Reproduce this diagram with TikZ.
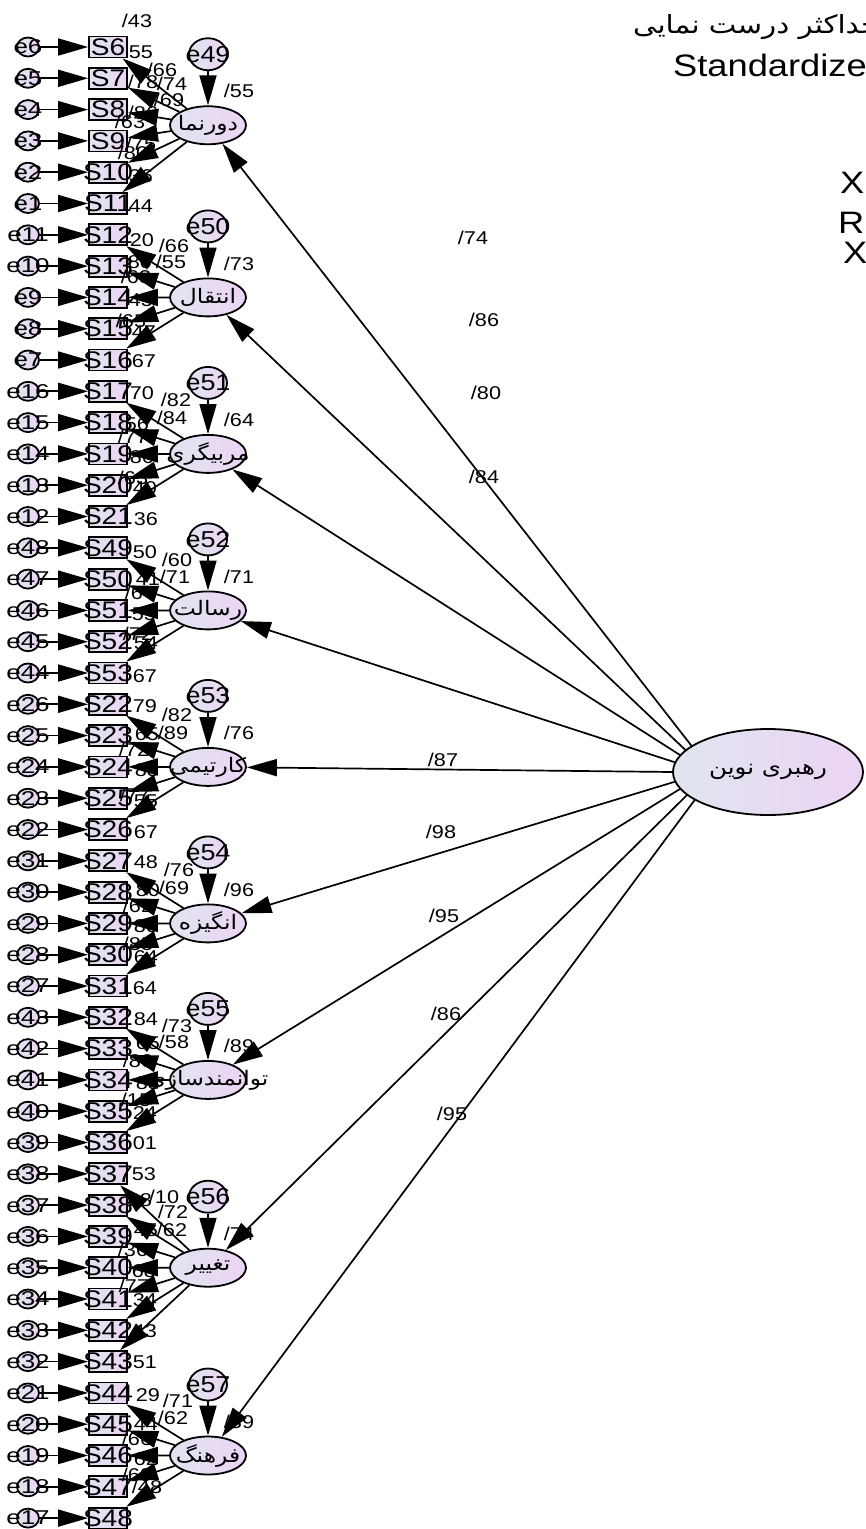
\documentclass[tikz,border=0pt]{standalone}
\usepackage{fontspec}
\usepackage{graphicx}
\setmainfont{Liberation Sans}
\newfontfamily\fa[Script=Arabic]{DejaVu Sans}
\TeXXeTstate=1
\usetikzlibrary{arrows.meta,shapes.geometric}

\definecolor{fillL}{RGB}{224,229,240}
\definecolor{fillR}{RGB}{236,212,244}

% text is set slightly wide throughout
\newcommand\sx[1]{\scalebox{1.17}[1]{#1}}
\newcommand\ex[1]{\scalebox{1.3}[1]{#1}}
\newcommand\fatext[1]{{\fa\beginR #1\endR}}
\newcommand\lab[3]{\node[num] at (#1,#2) {\sx{#3}};}

\tikzset{
  x=1pt, y=-1pt,
  grad/.style={left color=fillL, right color=fillR},
  obs/.style={draw, line width=1.8pt, rectangle, minimum width=38pt, minimum height=21pt, inner sep=0pt, grad},
  errc/.style={draw, line width=1.8pt, ellipse, minimum width=22pt, minimum height=19pt, inner sep=0pt, grad},
  lat/.style={draw, line width=1.8pt, ellipse, minimum width=76pt, minimum height=38pt, inner sep=0pt, grad},
  dis/.style={draw, line width=1.8pt, ellipse, minimum width=38pt, minimum height=32pt, inner sep=0pt, grad},
  arr/.style={line width=1.7pt, -{Triangle[length=30pt,width=17pt]}},
  num/.style={inner sep=0pt, font=\fontsize{18.5}{18.5}\selectfont},
  stxt/.style={inner sep=0pt, font=\fontsize{24}{24}\selectfont},
  etxt/.style={inner sep=0pt, font=\fontsize{20}{20}\selectfont},
  dtxt/.style={inner sep=0pt, font=\fontsize{23}{23}\selectfont},
  fatxt/.style={inner sep=0pt, font=\fontsize{20}{20}\selectfont},
}

\begin{document}
\begin{tikzpicture}
\useasboundingbox (0,0) rectangle (865,1529);

% ---- observed items with their error terms
\foreach \r/\s/\e in {1/6/6, 2/7/5, 3/8/4, 4/9/3, 5/10/2, 6/11/1,
  7/12/11, 8/13/10, 9/14/9, 10/15/8, 11/16/7,
  12/17/16, 13/18/15, 14/19/14, 15/20/13, 16/21/12,
  17/49/48, 18/50/47, 19/51/46, 20/52/45, 21/53/44,
  22/22/26, 23/23/25, 24/24/24, 25/25/23, 26/26/22,
  27/27/31, 28/28/30, 29/29/29, 30/30/28, 31/31/27,
  32/32/43, 33/33/42, 34/34/41, 35/35/40, 36/36/39,
  37/37/38, 38/38/37, 39/39/36, 40/40/35, 41/41/34, 42/42/33, 43/43/32,
  44/44/21, 45/45/20, 46/46/19, 47/47/18, 48/48/17}{
  \pgfmathsetmacro\yy{47+(\r-1)*31.3}
  \node[obs] (s\r) at (108,\yy) {};
  \node[errc] (u\r) at (28,\yy) {};
  \node[stxt] at (s\r) {\sx{S\s}};
  \node[etxt] at (u\r) {\ex{e\e}};
}

% ---- first-order factors with their disturbances
\foreach \g/\yy/\en/\rr/\nm in {1/125.25/49/55/دورنما, 2/297.4/50/73/انتقال,
  3/453.9/51/64/مربیگری, 4/610.4/52/71/رسالت, 5/766.9/53/76/کارتیمی,
  6/923.4/54/96/انگیزه, 7/1079.9/55/89/توانمندسازی, 8/1267.7/56/74/تغییر,
  9/1455.5/57/89/فرهنگ}{
  \node[lat] (L\g) at (208,\yy) {};
  \node[dis] (d\g) at (208,\yy-71) {};
  \node[fatxt] at (L\g) {\sx{\fatext{\nm}}};
  \node[dtxt] at (d\g) {\sx{e\en}};
  \node[num] at (239,\yy-34) {\sx{/\rr}};
}

% ---- second-order factor
\node[draw, line width=1.8pt, ellipse, minimum width=190pt, minimum height=86pt, inner sep=0pt, grad] (big) at (768,772) {};
\node[inner sep=0pt, font=\fontsize{21}{21}\selectfont] at (big) {\sx{\fatext{رهبری نوین}}};

% ---- header
\node[anchor=base west, inner sep=0pt, font=\fontsize{25}{25}\selectfont] (h1) at (633,33) {\sx{\fatext{حداکثر درست نمایی}}};
\node[anchor=base west, inner sep=0pt, font=\fontsize{31}{31}\selectfont] (h2) at (673,76) {\sx{Standardize}};
\node[anchor=base west, inner sep=0pt, font=\fontsize{31}{31}\selectfont] (h3) at (840,193) {\sx{X}};
\node[anchor=base west, inner sep=0pt, font=\fontsize{31}{31}\selectfont] (h4) at (838,233) {\sx{R}};
\node[anchor=base west, inner sep=0pt, font=\fontsize{31}{31}\selectfont] (h5) at (843,263) {\sx{X}};

% ---- second-order loadings
\lab{473}{238}{/74}
\lab{484}{320}{/86}
\lab{486}{393}{/80}
\lab{484}{477}{/84}
\lab{443}{760}{/87}
\lab{441}{832}{/98}
\lab{444}{916}{/95}
\lab{446}{1014}{/86}
\lab{452}{1114}{/95}

% ---- item estimates
\lab{137}{21}{/43}
\lab{141}{52}{55}
\lab{162}{70}{/66}
\lab{143}{82}{/78}
\lab{172}{84}{/74}
\lab{169}{100}{/69}
\lab{143}{113}{/86}
\lab{130}{122}{/63}
\lab{141}{144}{/75}
\lab{133}{153}{/80}
\lab{141}{176}{36}
\lab{141}{206}{44}

\lab{142}{240}{20}
\lab{174}{246}{/66}
\lab{140}{262}{80}
\lab{171}{262}{/55}
\lab{136}{277}{/63}
\lab{141}{300}{45}
\lab{131}{321}{/65}
\lab{144}{332}{47}
\lab{144}{361}{67}

\lab{142}{393}{70}
\lab{176}{400}{/82}
\lab{172}{418}{/84}
\lab{137}{424}{56}
\lab{133}{437}{/77}
\lab{142}{457}{86}
\lab{133}{478}{/63}
\lab{145}{488}{40}
\lab{146}{519}{36}

\lab{145}{552}{50}
\lab{177}{560}{/60}
\lab{148}{579}{41}
\lab{175}{577}{/71}
\lab{140}{593}{/64}
\lab{144}{614}{55}
\lab{138}{634}{/72}
\lab{146}{643}{54}
\lab{145}{676}{67}

\lab{145}{706}{79}
\lab{177}{715}{/82}
\lab{147}{734}{65}
\lab{173}{733}{/89}
\lab{134}{750}{/72}
\lab{147}{770}{88}
\lab{135}{795}{/77}
\lab{146}{801}{55}
\lab{146}{832}{67}

\lab{146}{862}{48}
\lab{179}{870}{/76}
\lab{148}{890}{80}
\lab{174}{888}{/69}
\lab{138}{906}{/62}
\lab{146}{926}{80}
\lab{138}{944}{/85}
\lab{146}{957}{64}
\lab{145}{988}{64}

\lab{146}{1019}{84}
\lab{177}{1026}{/73}
\lab{148}{1043}{65}
\lab{174}{1042}{/58}
\lab{138}{1061}{/80}
\lab{148}{1083}{88}
\lab{136}{1100}{/15}
\lab{145}{1113}{24}
\lab{145}{1143}{01}

\lab{144}{1174}{53}
\lab{140}{1200}{28}
\lab{164}{1197}{/10}
\lab{173}{1212}{/72}
\lab{146}{1230}{45}
\lab{172}{1230}{/62}
\lab{133}{1250}{/36}
\lab{144}{1271}{68}
\lab{134}{1286}{/77}
\lab{145}{1300}{34}
\lab{145}{1331}{43}
\lab{145}{1362}{51}

\lab{148}{1395}{29}
\lab{178}{1401}{/71}
\lab{146}{1424}{44}
\lab{173}{1418}{/62}
\lab{137}{1439}{/66}
\lab{146}{1459}{62}
\lab{137}{1475}{/69}
\lab{147}{1487}{/48}

% ---- paths
\foreach \r in {1,...,48} \draw[arr] (u\r) -- (s\r);
\foreach \g in {1,...,9} \draw[arr] (d\g) -- (L\g);
\foreach \g/\a/\b in {1/1/6, 2/7/11, 3/12/16, 4/17/21, 5/22/26,
  6/27/31, 7/32/36, 8/37/43, 9/44/48}{
  \foreach \r in {\a,...,\b}{ \draw[arr] (L\g) -- (s\r); }
}
\foreach \g/\ang in {1/161, 2/165, 3/169, 4/174, 5/180, 6/186, 7/191, 8/196, 9/201}
  \draw[arr] (big.\ang) -- (L\g);
\end{tikzpicture}
\end{document}
